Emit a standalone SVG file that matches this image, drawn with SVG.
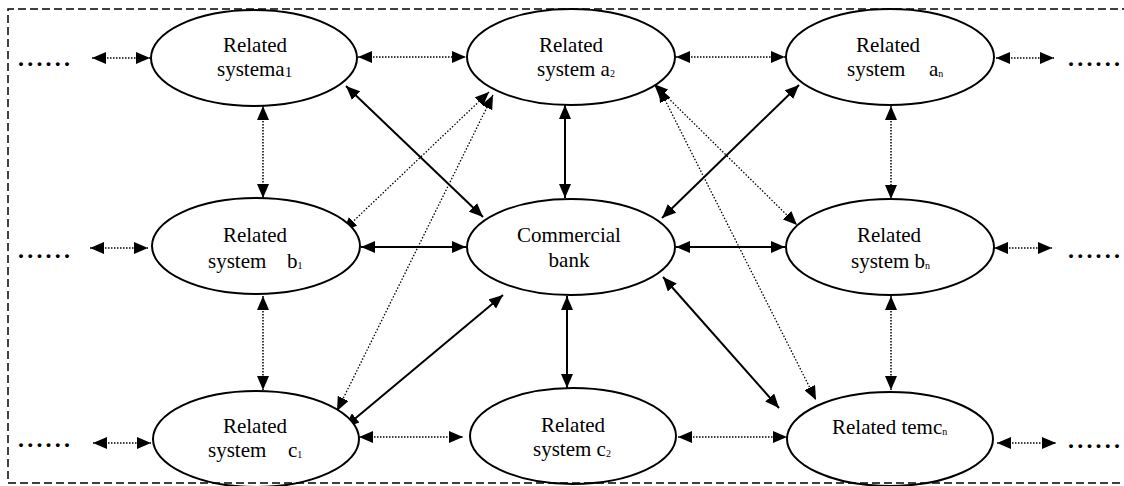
<svg xmlns="http://www.w3.org/2000/svg" width="1124" height="486" viewBox="0 0 1124 486">
<style>
.node{fill:#fff;stroke:#000;stroke-width:2}
.t{font-family:'Liberation Serif',Tinos,'Times New Roman',Times,'DejaVu Serif',serif;font-size:21px;fill:#000}
.m{text-anchor:middle}
.sub{font-size:10px}
.dots{font-family:'Liberation Serif',Tinos,'Times New Roman',Times,'DejaVu Serif',serif;font-size:24px;font-weight:bold;fill:#000}
.solid{stroke:#000;stroke-width:2;fill:none;marker-start:url(#ah);marker-end:url(#ah)}
.dot{stroke:#000;stroke-width:1.5;stroke-dasharray:1.5 1.5;fill:none;marker-start:url(#ah);marker-end:url(#ah)}
.dotd{stroke:#000;stroke-width:1.3;stroke-dasharray:1.5 1.8;fill:none;marker-start:url(#ah);marker-end:url(#ah)}
.border{stroke:#000;stroke-width:1.5;stroke-dasharray:8 4;fill:none}
</style>
<defs>
<marker id="ah" viewBox="0 0 14 12" refX="14" refY="6" markerWidth="14" markerHeight="12" markerUnits="userSpaceOnUse" orient="auto-start-reverse">
<path d="M0,0 L14,6 L0,12 z" fill="#000"/>
</marker>
</defs>
<rect width="1124" height="486" fill="#fff"/>

<g id="connectors">
<line class="dot" x1="92" y1="58" x2="150" y2="58"/>
<line class="dot" x1="358" y1="57" x2="466" y2="57"/>
<line class="dot" x1="676" y1="57" x2="785" y2="57"/>
<line class="dot" x1="996" y1="58" x2="1054" y2="58"/>
<line class="dot" x1="90" y1="248" x2="148" y2="248"/>
<line class="solid" x1="361" y1="247" x2="466" y2="247"/>
<line class="solid" x1="676" y1="247" x2="785" y2="247"/>
<line class="dot" x1="994" y1="248" x2="1052" y2="248"/>
<line class="dot" x1="93" y1="443" x2="151" y2="443"/>
<line class="dot" x1="359" y1="437" x2="463" y2="437"/>
<line class="dot" x1="678" y1="437" x2="787" y2="437"/>
<line class="dot" x1="997" y1="443" x2="1056" y2="443"/>
<line class="dot" x1="263" y1="106" x2="263" y2="198"/>
<line class="dot" x1="263" y1="296" x2="263" y2="390"/>
<line class="solid" x1="565" y1="105" x2="565" y2="198"/>
<line class="solid" x1="567" y1="296" x2="567" y2="388"/>
<line class="dot" x1="891" y1="106" x2="891" y2="199"/>
<line class="dot" x1="891" y1="296" x2="891" y2="390"/>
<line class="solid" x1="346" y1="86" x2="483" y2="217"/>
<line class="solid" x1="799" y1="85" x2="662" y2="218"/>
<line class="solid" x1="345" y1="427" x2="503" y2="295"/>
<line class="solid" x1="663" y1="277" x2="779" y2="408"/>
<line class="dotd" x1="489" y1="92" x2="343" y2="231"/>
<line class="dotd" x1="493" y1="95" x2="337" y2="411"/>
<line class="dotd" x1="654" y1="84" x2="797" y2="225"/>
<line class="dotd" x1="659" y1="88" x2="816" y2="400"/>
</g>

<g id="node-a1">
<ellipse class="node" cx="254" cy="58" rx="103" ry="48"/>
<text class="t m" x="255" y="52">Related</text>
<text class="t" x="217" y="76">systema<tspan font-size="15" dy="1">1</tspan></text>
</g>
<g id="node-a2">
<ellipse class="node" cx="571" cy="57" rx="104" ry="48"/>
<text class="t m" x="571" y="52">Related</text>
<text class="t" x="537" y="76">system a<tspan class="sub" dy="1">2</tspan></text>
</g>
<g id="node-an">
<ellipse class="node" cx="890" cy="57" rx="104" ry="48"/>
<text class="t m" x="888" y="52">Related</text>
<text class="t" x="847" y="76">system<tspan x="929">a</tspan><tspan class="sub" dy="1">n</tspan></text>
</g>
<g id="node-b1">
<ellipse class="node" cx="256" cy="246" rx="104" ry="48"/>
<text class="t m" x="255" y="242">Related</text>
<text class="t" x="208" y="268">system<tspan x="287">b</tspan><tspan class="sub" dy="1">1</tspan></text>
</g>
<g id="node-bank">
<ellipse class="node" cx="571" cy="247" rx="104" ry="48"/>
<text class="t m" x="569" y="242">Commercial</text>
<text class="t m" x="569" y="267">bank</text>
</g>
<g id="node-bn">
<ellipse class="node" cx="890" cy="247" rx="104" ry="48"/>
<text class="t m" x="889" y="242">Related</text>
<text class="t" x="851" y="268">system b<tspan class="sub" dy="1">n</tspan></text>
</g>
<g id="node-c1">
<ellipse class="node" cx="256" cy="439" rx="103" ry="48"/>
<text class="t m" x="255" y="433">Related</text>
<text class="t" x="208" y="457">system<tspan x="288">c</tspan><tspan class="sub" dy="1">1</tspan></text>
</g>
<g id="node-c2">
<ellipse class="node" cx="573" cy="436" rx="103" ry="48"/>
<text class="t m" x="573" y="432">Related</text>
<text class="t" x="533" y="456">system c<tspan class="sub" dy="1">2</tspan></text>
</g>
<g id="node-cn">
<ellipse class="node" cx="890" cy="439" rx="103" ry="47"/>
<text class="t" x="832" y="434">Related temc<tspan class="sub" dy="1">n</tspan></text>
</g>

<g id="ellipsis">
<text class="dots" x="18" y="66" textLength="52" lengthAdjust="spacing">......</text>
<text class="dots" x="18" y="258" textLength="52" lengthAdjust="spacing">......</text>
<text class="dots" x="18" y="447" textLength="52" lengthAdjust="spacing">......</text>
<text class="dots" x="1068" y="66" textLength="52" lengthAdjust="spacing">......</text>
<text class="dots" x="1068" y="258" textLength="52" lengthAdjust="spacing">......</text>
<text class="dots" x="1068" y="448" textLength="52" lengthAdjust="spacing">......</text>
</g>

<path class="border" d="M1130,9 H8 V483 H1130"/>
</svg>
